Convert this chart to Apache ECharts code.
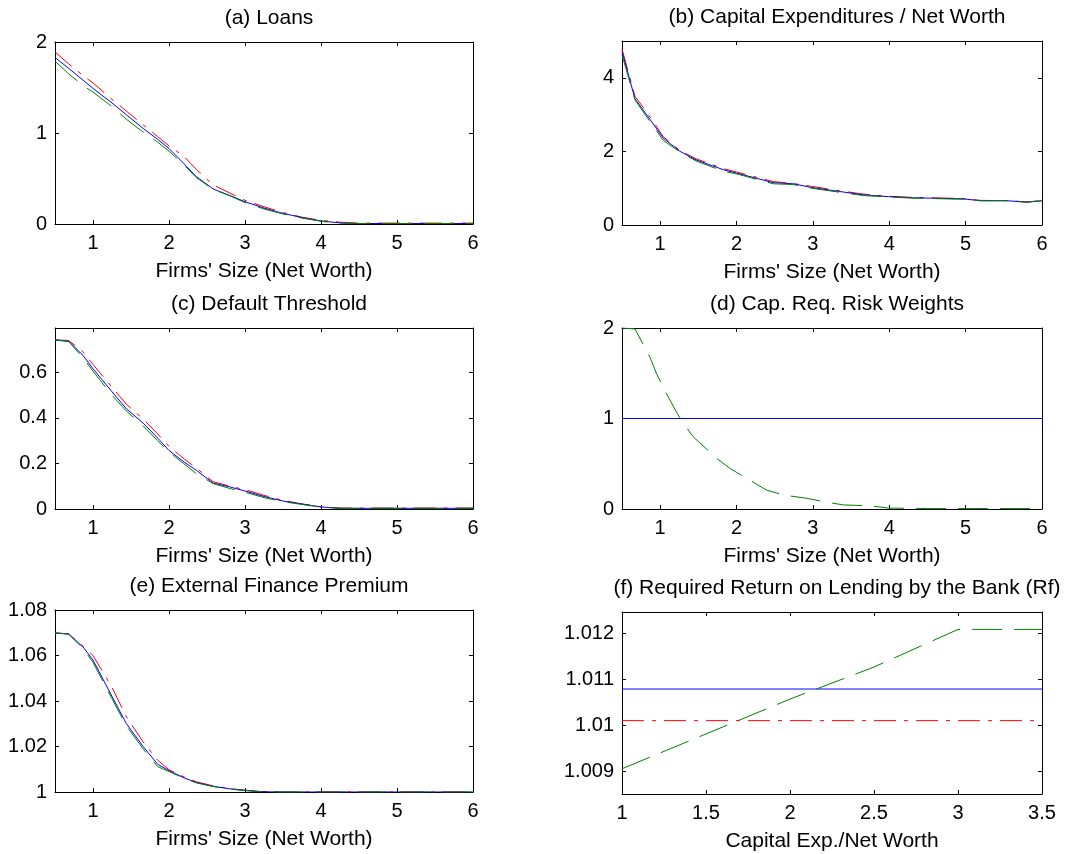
<!DOCTYPE html>
<html><head><meta charset="utf-8">
<script src="https://cdn.jsdelivr.net/npm/echarts@6/dist/echarts.min.js"></script>
<style>html,body{margin:0;padding:0;background:#fff}#c{width:1077px;height:854px}</style>
</head><body><div id="c"></div>
<script>
// ---------- data ----------
const xSize = [0.5, 0.68, 0.87, 1.0, 1.25, 1.44, 1.66, 1.85, 2.0, 2.2, 2.36, 2.58, 2.8, 3.0, 3.25, 3.5, 3.75, 4.0, 4.25, 4.5, 5.0, 5.5, 6.0];

const loansBlue  = [1.83, 1.71, 1.58, 1.49, 1.33, 1.20, 1.05, 0.93, 0.83, 0.66, 0.52, 0.385, 0.313, 0.245, 0.175, 0.117, 0.07, 0.033, 0.012, 0.005, 0.005, 0.005, 0.005];
const loansRed   = [1.89, 1.76, 1.63, 1.55, 1.37, 1.24, 1.09, 0.96, 0.86, 0.74, 0.60, 0.43, 0.34, 0.26, 0.19, 0.125, 0.075, 0.04, 0.02, 0.01, 0.01, 0.01, 0.01];
const loansGreen = [1.79, 1.65, 1.52, 1.45, 1.29, 1.15, 1.01, 0.90, 0.80, 0.645, 0.51, 0.38, 0.31, 0.235, 0.165, 0.11, 0.065, 0.03, 0.01, 0.005, 0.005, 0.005, 0.005];

const xCapex = [0.5, 0.67, 0.87, 1.04, 1.26, 1.47, 1.83, 2.0, 2.48, 2.74, 2.98, 3.35, 3.66, 3.99, 4.31, 4.97, 5.19, 5.54, 5.8, 6.0];
const capexBlue  = [4.72, 3.43, 2.86, 2.36, 2.0, 1.77, 1.50, 1.41, 1.15, 1.12, 1.02, 0.91, 0.82, 0.77, 0.74, 0.71, 0.66, 0.66, 0.62, 0.66];
const capexRed   = [4.78, 3.50, 2.93, 2.40, 2.02, 1.80, 1.53, 1.44, 1.18, 1.13, 1.05, 0.93, 0.84, 0.78, 0.75, 0.72, 0.67, 0.66, 0.63, 0.66];
const capexGreen = [4.62, 3.40, 2.80, 2.30, 1.98, 1.74, 1.46, 1.39, 1.12, 1.10, 1.00, 0.89, 0.80, 0.76, 0.73, 0.70, 0.66, 0.66, 0.62, 0.66];

const thrBlue  = [0.743, 0.737, 0.674, 0.616, 0.515, 0.44, 0.377, 0.312, 0.257, 0.206, 0.17, 0.114, 0.097, 0.079, 0.055, 0.035, 0.022, 0.009, 0.003, 0.003, 0.003, 0.003, 0.003];
const thrRed   = [0.743, 0.74, 0.69, 0.635, 0.535, 0.46, 0.395, 0.33, 0.275, 0.22, 0.18, 0.12, 0.10, 0.085, 0.06, 0.038, 0.022, 0.01, 0.004, 0.004, 0.004, 0.004, 0.004];
const thrGreen = [0.743, 0.735, 0.665, 0.605, 0.50, 0.43, 0.365, 0.30, 0.25, 0.198, 0.155, 0.112, 0.09, 0.074, 0.05, 0.032, 0.02, 0.008, 0.003, 0.003, 0.003, 0.003, 0.003];

const xRisk = [0.5, 0.67, 0.87, 0.95, 1.06, 1.22, 1.32, 1.43, 1.74, 1.91, 2.39, 2.61, 2.92, 3.18, 3.40, 3.75, 3.99, 4.5, 5.0, 5.5, 6.0];
const riskGreen = [2.0, 1.99, 1.67, 1.50, 1.31, 1.06, 0.93, 0.80, 0.56, 0.45, 0.21, 0.155, 0.118, 0.075, 0.045, 0.035, 0.01, 0.005, 0.005, 0.005, 0.005];
const xRiskFlat = [0.5, 6.0];
const riskBlue = [1, 1];

const efpBlue  = [1.0699, 1.0695, 1.0637, 1.058, 1.042, 1.030, 1.020, 1.0122, 1.0094, 1.0062, 1.0042, 1.0025, 1.0014, 1.0007, 1.0001, 1.0, 1.0, 1.0, 1.0, 1.0, 1.0, 1.0, 1.0];
const efpRed   = [1.0699, 1.0695, 1.064, 1.060, 1.046, 1.033, 1.022, 1.014, 1.0098, 1.0066, 1.0045, 1.0027, 1.0015, 1.0008, 1.0002, 1.0, 1.0, 1.0, 1.0, 1.0, 1.0, 1.0, 1.0];
const efpGreen = [1.0699, 1.0694, 1.063, 1.057, 1.041, 1.029, 1.019, 1.0112, 1.0090, 1.0060, 1.004, 1.0024, 1.0013, 1.0006, 1.0001, 1.0, 1.0, 1.0, 1.0, 1.0, 1.0, 1.0, 1.0];

const xRf = [1, 1.5, 2, 2.5, 3, 3.5];
const rfGreen = [1.00905, 1.00981, 1.01057, 1.01127, 1.01209, 1.01209];
const xRfFlat = [1, 3.5];
const rfBlue = [1.01079, 1.01079];
const rfRed  = [1.0101, 1.0101];

const titles = ['(a) Loans', '(b) Capital Expenditures / Net Worth', '(c) Default Threshold',
                '(d) Cap. Req. Risk Weights', '(e) External Finance Premium', '(f) Required Return on Lending by the Bank (Rf)'];
const xNames = ["Firms' Size (Net Worth)", "Firms' Size (Net Worth)", "Firms' Size (Net Worth)",
                "Firms' Size (Net Worth)", "Firms' Size (Net Worth)", 'Capital Exp./Net Worth'];
const sizeTicks = [1, 2, 3, 4, 5, 6];
const rfXTicks = [1, 1.5, 2, 2.5, 3, 3.5];
const yTicksA = [0, 1, 2];
const yTicksB = [0, 2, 4];
const yTicksC = [0, 0.2, 0.4, 0.6];
const yTicksD = [0, 1, 2];
const yTicksE = [1, 1.02, 1.04, 1.06, 1.08];
const yTicksF = [1.009, 1.01, 1.011, 1.012];

// ---------- layout ----------
const FONT = "'Liberation Sans', Arial, Helvetica, sans-serif";
const panels = [
  {grid:{left:55, top:42, width:418, height:182}, xr:[0.5,6], xt:sizeTicks, yr:[0,2], yt:yTicksA,
   series:[[xSize,loansBlue,'b'],[xSize,loansRed,'r'],[xSize,loansGreen,'g']]},
  {grid:{left:622, top:41, width:420, height:184}, xr:[0.5,6], xt:sizeTicks, yr:[0,5], yt:yTicksB,
   series:[[xCapex,capexBlue,'b'],[xCapex,capexRed,'r'],[xCapex,capexGreen,'g']]},
  {grid:{left:55, top:328, width:418, height:181}, xr:[0.5,6], xt:sizeTicks, yr:[0,0.795], yt:yTicksC,
   series:[[xSize,thrBlue,'b'],[xSize,thrRed,'r'],[xSize,thrGreen,'g']]},
  {grid:{left:622, top:328, width:420, height:181}, xr:[0.5,6], xt:sizeTicks, yr:[0,2], yt:yTicksD,
   series:[[xRiskFlat,riskBlue,'b'],[xRisk,riskGreen,'g']]},
  {grid:{left:55, top:610, width:418, height:182}, xr:[0.5,6], xt:sizeTicks, yr:[1,1.08], yt:yTicksE,
   series:[[xSize,efpBlue,'b'],[xSize,efpRed,'r'],[xSize,efpGreen,'g']]},
  {grid:{left:622, top:612, width:420, height:182}, xr:[1,3.5], xt:rfXTicks, yr:[1.0085,1.01247], yt:yTicksF,
   series:[[xRfFlat,rfBlue,'b'],[xRfFlat,rfRed,'r'],[xRf,rfGreen,'g']]}
];
const styles = {
  b:{color:'#0000ff', type:'solid'},
  r:{color:'#ff0000', type:[22,8,4,8]},
  g:{color:'#008000', type:[30,12]}
};

const option = {animation:false, backgroundColor:'#fff', title:[], grid:[], xAxis:[], yAxis:[], series:[]};
const lineCommon = {show:true, lineStyle:{color:'#000', width:1}};
panels.forEach((p, i) => {
  option.grid.push(Object.assign({containLabel:false}, p.grid));
  const cx = p.grid.left + p.grid.width / 2;
  option.title.push({text:titles[i], left:cx, top:p.grid.top - 39, textAlign:'center',
    textStyle:{fontFamily:FONT, fontSize:21, fontWeight:'normal', color:'#000'}});
  const tick = {show:true, inside:true, length:4, lineStyle:{color:'#000', width:1}};
  option.xAxis.push({type:'value', gridIndex:i, position:'bottom', min:p.xr[0], max:p.xr[1],
    name:xNames[i], nameLocation:'middle', nameGap:37,
    nameTextStyle:{fontFamily:FONT, fontSize:21, color:'#000'},
    axisLine:Object.assign({onZero:false}, lineCommon),
    axisTick:Object.assign({customValues:p.xt}, tick),
    axisLabel:{customValues:p.xt, margin:9, fontFamily:FONT, fontSize:20, color:'#000'},
    splitLine:{show:false}});
  option.xAxis.push({type:'value', gridIndex:i, position:'top', min:p.xr[0], max:p.xr[1],
    axisLine:Object.assign({onZero:false}, lineCommon),
    axisTick:Object.assign({customValues:p.xt}, tick),
    axisLabel:{show:false}, splitLine:{show:false}});
  option.yAxis.push({type:'value', gridIndex:i, position:'left', min:p.yr[0], max:p.yr[1],
    axisLine:Object.assign({onZero:false}, lineCommon),
    axisTick:Object.assign({customValues:p.yt}, tick),
    axisLabel:{customValues:p.yt, margin:8, fontFamily:FONT, fontSize:20, color:'#000'},
    splitLine:{show:false}});
  option.yAxis.push({type:'value', gridIndex:i, position:'right', min:p.yr[0], max:p.yr[1],
    axisLine:Object.assign({onZero:false}, lineCommon),
    axisTick:Object.assign({customValues:p.yt}, tick),
    axisLabel:{show:false}, splitLine:{show:false}});
  p.series.forEach(s => {
    const st = styles[s[2]];
    option.series.push({type:'line', xAxisIndex:2*i, yAxisIndex:2*i, showSymbol:false, symbol:'none',
      clip:true, z: s[2]==='b' ? 3 : (s[2]==='r' ? 2 : 4),
      data:s[0].map((x, k) => [x, s[1][k]]),
      lineStyle:{color:st.color, width:1, type:st.type, opacity:1}});
  });
});

const chart = echarts.init(document.getElementById('c'), null, {renderer:'canvas'});
chart.setOption(option);
</script>
</body></html>
